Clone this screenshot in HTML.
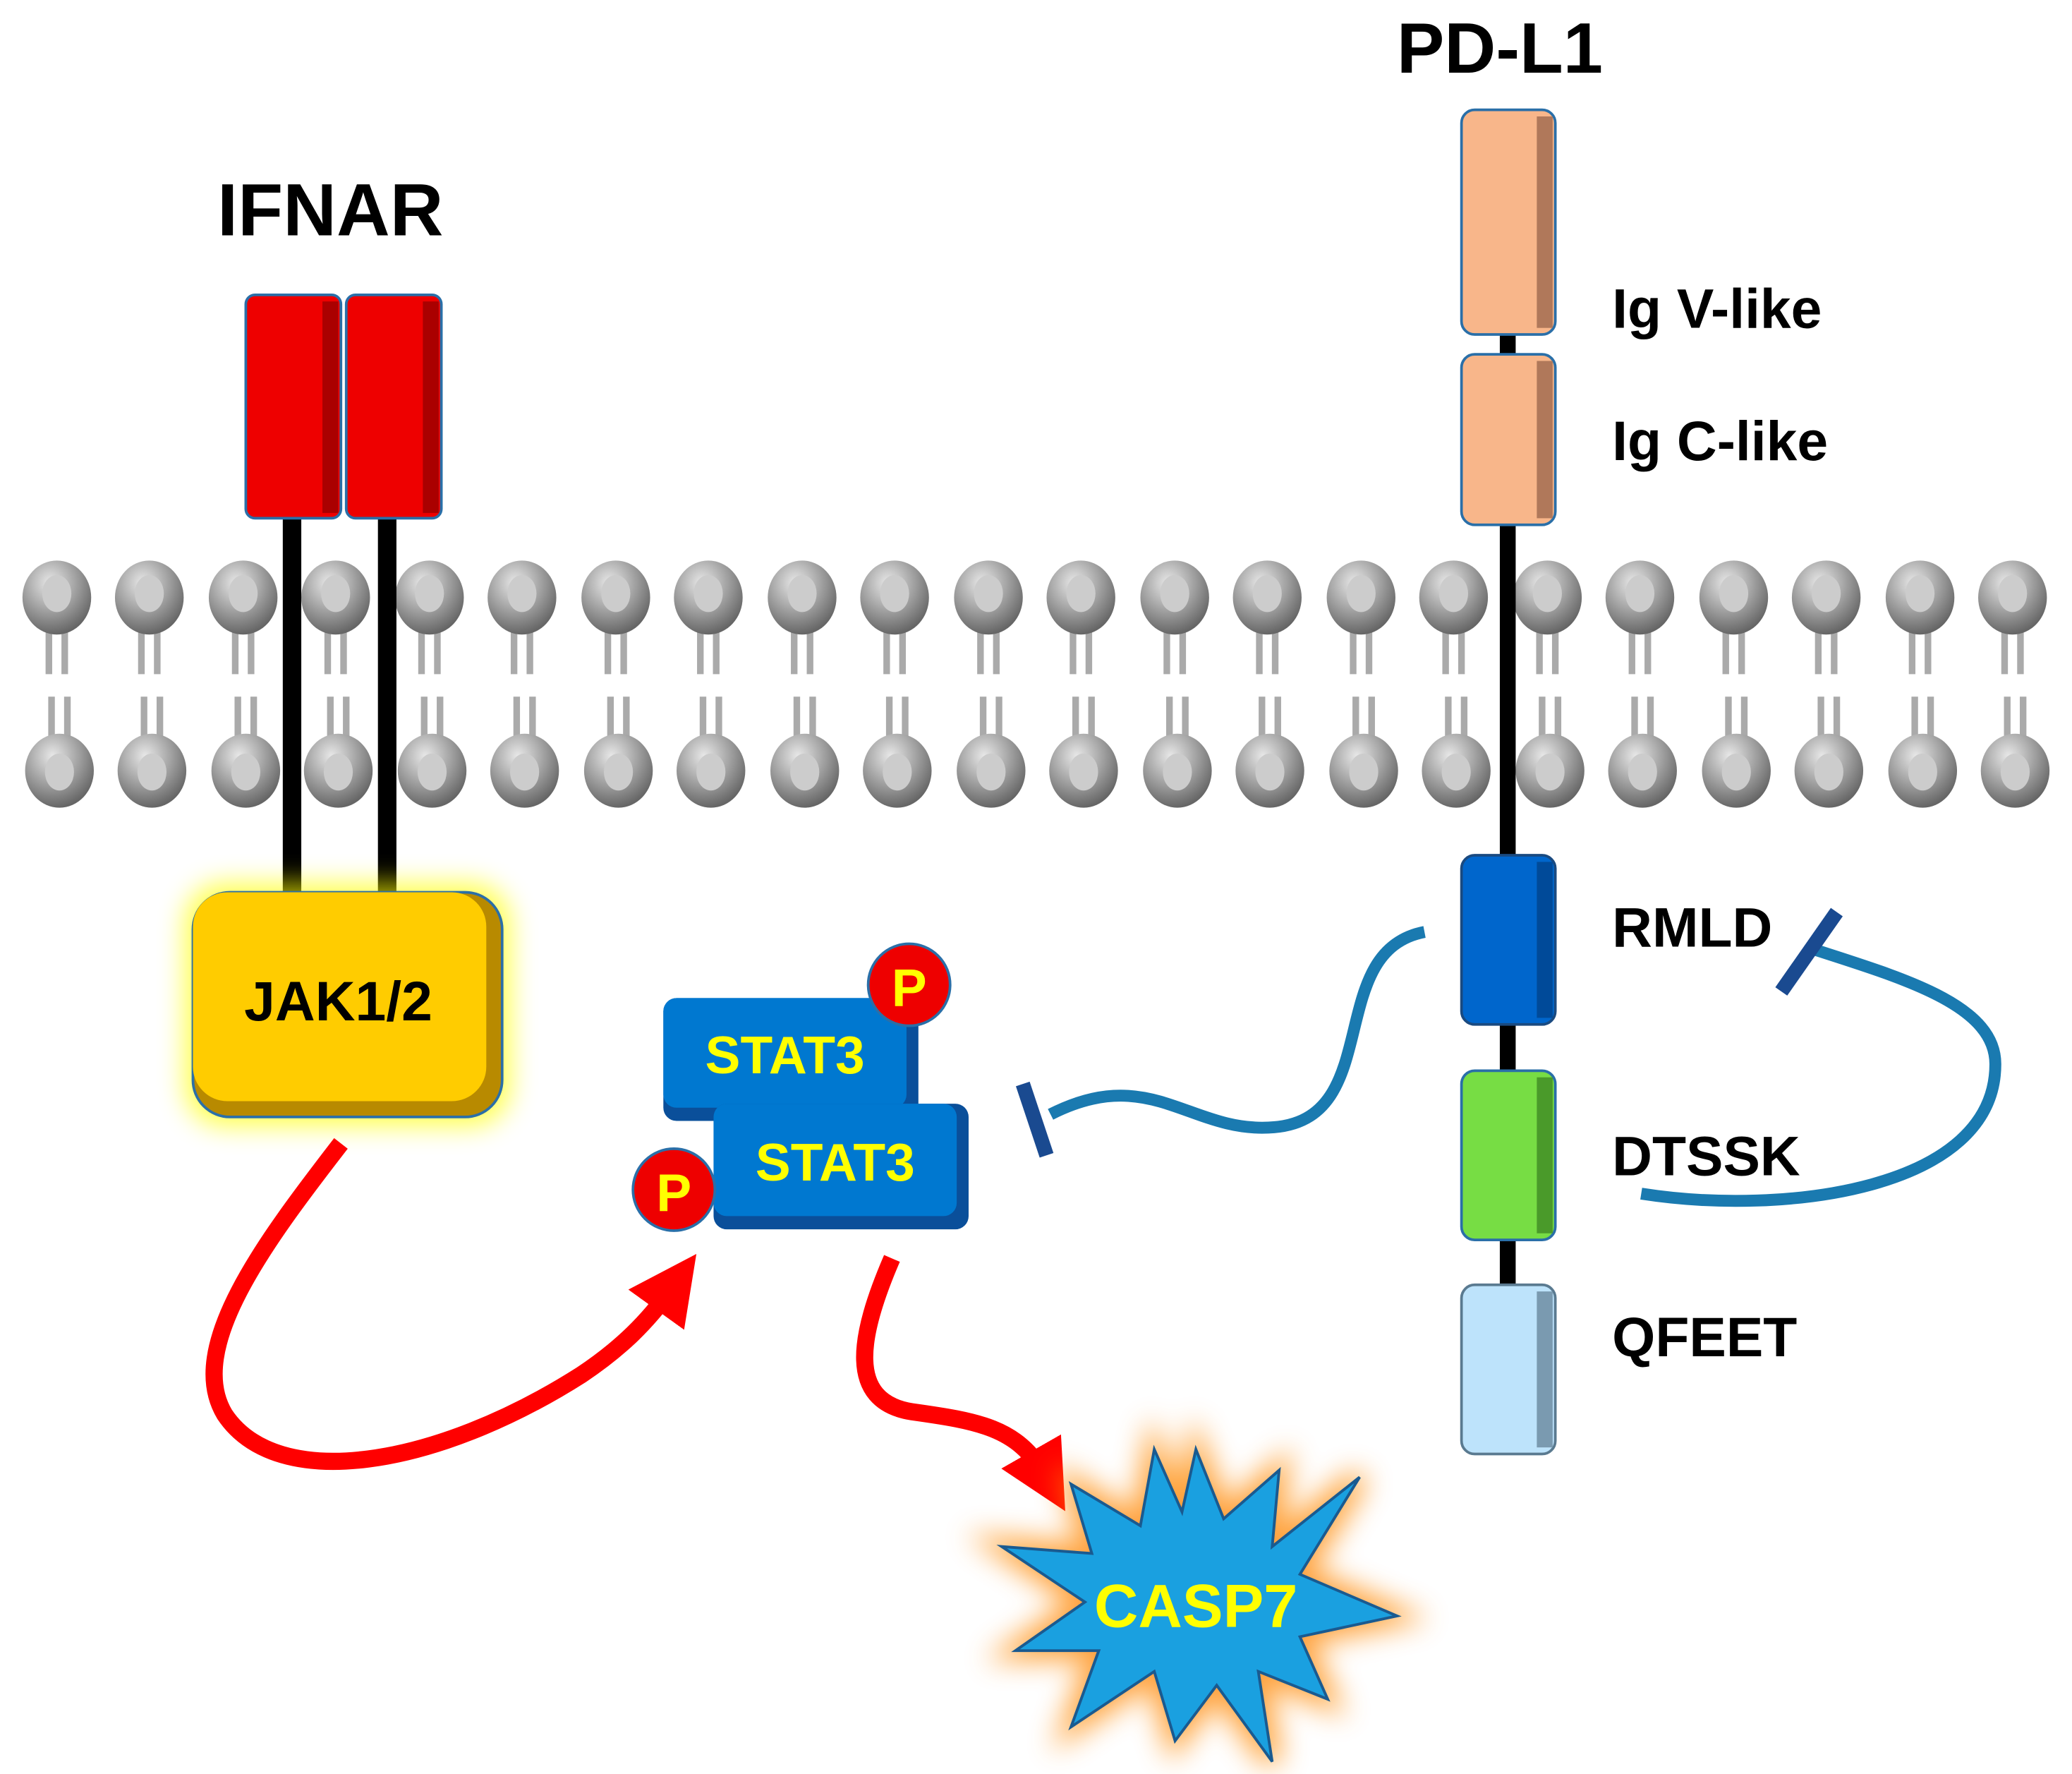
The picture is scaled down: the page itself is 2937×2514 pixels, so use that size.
<!DOCTYPE html>
<html><head><style>html,body{margin:0;padding:0;background:#fff}svg{display:block}</style></head>
<body>
<svg width="2937" height="2514" viewBox="0 0 1568 1342" xmlns="http://www.w3.org/2000/svg" font-family="Liberation Sans, Arial, sans-serif" font-weight="bold">
<defs>
<radialGradient id="head" cx="0.4" cy="0.3" r="0.7"><stop offset="0" stop-color="#e8e8e8"/><stop offset="1" stop-color="#666"/></radialGradient>
<g id="lip">
<line x1="-6" y1="470" x2="-6" y2="510" stroke="#aaa" stroke-width="5"/><line x1="6" y1="470" x2="6" y2="510" stroke="#aaa" stroke-width="5"/>
<line x1="-4" y1="527" x2="-4" y2="565" stroke="#aaa" stroke-width="5"/><line x1="8" y1="527" x2="8" y2="565" stroke="#aaa" stroke-width="5"/>
<ellipse cx="0" cy="452" rx="26" ry="28" fill="url(#head)"/><ellipse cx="0" cy="449" rx="11" ry="14" fill="#ccc"/>
<ellipse cx="2" cy="583" rx="26" ry="28" fill="url(#head)"/><ellipse cx="2" cy="584" rx="11" ry="14" fill="#ccc"/>
</g>
<filter id="glow" x="-30%" y="-30%" width="160%" height="160%"><feGaussianBlur stdDeviation="10"/></filter>
<marker id="ar" markerWidth="4" markerHeight="4" refX="1.5" refY="2" orient="auto"><path d="M0,0 L4,2 L0,4 Z" fill="#f00"/></marker>
</defs>
<g>
<use href="#lip" x="43"/><use href="#lip" x="113"/><use href="#lip" x="184"/><use href="#lip" x="254"/><use href="#lip" x="325"/><use href="#lip" x="395"/><use href="#lip" x="466"/><use href="#lip" x="536"/><use href="#lip" x="607"/><use href="#lip" x="677"/><use href="#lip" x="748"/><use href="#lip" x="818"/><use href="#lip" x="889"/><use href="#lip" x="959"/><use href="#lip" x="1030"/><use href="#lip" x="1100"/><use href="#lip" x="1171"/><use href="#lip" x="1241"/><use href="#lip" x="1312"/><use href="#lip" x="1382"/><use href="#lip" x="1453"/><use href="#lip" x="1523"/>
</g>
<text x="250" y="178" font-size="56" text-anchor="middle">IFNAR</text>
<line x1="221" y1="385" x2="221" y2="680" stroke="#000" stroke-width="14"/>
<line x1="293" y1="385" x2="293" y2="680" stroke="#000" stroke-width="14"/>
<rect x="186" y="223" width="72" height="169" rx="7" fill="#e00" stroke="#2a6fa8" stroke-width="2"/>
<rect x="244" y="228" width="12" height="160" fill="#a00"/>
<rect x="262" y="223" width="72" height="169" rx="7" fill="#e00" stroke="#2a6fa8" stroke-width="2"/>
<rect x="320" y="228" width="12" height="160" fill="#a00"/>
<rect x="140" y="668" width="246" height="184" rx="30" fill="#ff0" filter="url(#glow)" opacity="0.7"/>
<rect x="146" y="675" width="234" height="170" rx="28" fill="#b88a00" stroke="#2a6fa8" stroke-width="2"/>
<rect x="146" y="675" width="222" height="158" rx="26" fill="#ffcc00"/>
<text x="256" y="772" font-size="42" text-anchor="middle">JAK1/2</text>
<text x="1135" y="55" font-size="54" text-anchor="middle">PD-L1</text>
<line x1="1141" y1="85" x2="1141" y2="1090" stroke="#000" stroke-width="12"/>
<rect x="1106" y="83" width="71" height="170" rx="10" fill="#f8b68a" stroke="#2a6fa8" stroke-width="2"/>
<rect x="1163" y="88" width="12" height="160" fill="#b0785a"/>
<rect x="1106" y="268" width="71" height="129" rx="10" fill="#f8b68a" stroke="#2a6fa8" stroke-width="2"/>
<rect x="1163" y="273" width="12" height="119" fill="#b0785a"/>
<rect x="1106" y="647" width="71" height="128" rx="10" fill="#0066cc" stroke="#1a4a80" stroke-width="2"/>
<rect x="1163" y="652" width="12" height="118" fill="#004a99"/>
<rect x="1106" y="810" width="71" height="128" rx="10" fill="#77dd44" stroke="#2a6fa8" stroke-width="2"/>
<rect x="1163" y="815" width="12" height="118" fill="#4a9a2a"/>
<rect x="1106" y="972" width="71" height="128" rx="10" fill="#bde3fb" stroke="#5a7a90" stroke-width="2"/>
<rect x="1163" y="977" width="12" height="118" fill="#7a9ab0"/>
<g font-size="42">
<text x="1220" y="248">Ig V-like</text>
<text x="1220" y="348">Ig C-like</text>
<text x="1220" y="716">RMLD</text>
<text x="1220" y="889">DTSSK</text>
<text x="1220" y="1026">QFEET</text>
</g>
<path d="M1078,705 C1000,720 1050,850 960,853 C900,856 870,805 795,843" fill="none" stroke="#1a7ab0" stroke-width="9"/>
<line x1="774" y1="820" x2="792" y2="874" stroke="#1a4a90" stroke-width="11"/>
<path d="M1242,903 C1350,920 1510,900 1510,805 C1510,760 1440,740 1372,718" fill="none" stroke="#1a7ab0" stroke-width="9"/>
<line x1="1348" y1="750" x2="1390" y2="690" stroke="#1a4a90" stroke-width="11"/>
<rect x="502" y="755" width="193" height="93" rx="10" fill="#0a4f9a"/>
<rect x="502" y="755" width="184" height="83" rx="10" fill="#0078d0"/>
<text x="594" y="812" font-size="40" fill="#ffff00" text-anchor="middle">STAT3</text>
<rect x="540" y="835" width="193" height="95" rx="10" fill="#0a4f9a"/>
<rect x="540" y="835" width="184" height="85" rx="10" fill="#0078d0"/>
<text x="632" y="893" font-size="40" fill="#ffff00" text-anchor="middle">STAT3</text>
<circle cx="688" cy="745" r="31" fill="#e00" stroke="#2a6fa8" stroke-width="2"/>
<text x="688" y="761" font-size="40" fill="#ffff00" text-anchor="middle">P</text>
<circle cx="510" cy="900" r="31" fill="#e00" stroke="#2a6fa8" stroke-width="2"/>
<text x="510" y="916" font-size="40" fill="#ffff00" text-anchor="middle">P</text>
<path d="M258,865 C200,940 140,1020 170,1070 C210,1130 330,1110 440,1040 C470,1020 490,1000 508,975" fill="none" stroke="#f00" stroke-width="13" marker-end="url(#ar)"/>
<path d="M675,952 C650,1010 640,1060 690,1068 C740,1075 770,1080 790,1115" fill="none" stroke="#f00" stroke-width="13" marker-end="url(#ar)"/>
<g transform="translate(905,1212) scale(1.05)">
<polygon points="0,-110 20,-60 60,-95 55,-40 118,-90 75,-20 145,10 75,25 95,70 45,50 55,115 15,60 -15,100 -30,50 -90,90 -70,35 -130,35 -80,0 -140,-40 -75,-35 -90,-85 -40,-55 -30,-110 -10,-65" fill="#ff7700" stroke="#ff8800" stroke-width="14" filter="url(#glow)" opacity="0.75"/>
<polygon points="0,-110 20,-60 60,-95 55,-40 118,-90 75,-20 145,10 75,25 95,70 45,50 55,115 15,60 -15,100 -30,50 -90,90 -70,35 -130,35 -80,0 -140,-40 -75,-35 -90,-85 -40,-55 -30,-110 -10,-65" fill="#1aa0e0" stroke="#1a5a90" stroke-width="2"/>
<text x="0" y="18" font-size="44" fill="#ffff00" text-anchor="middle">CASP7</text>
</g>
</svg>
</body></html>
